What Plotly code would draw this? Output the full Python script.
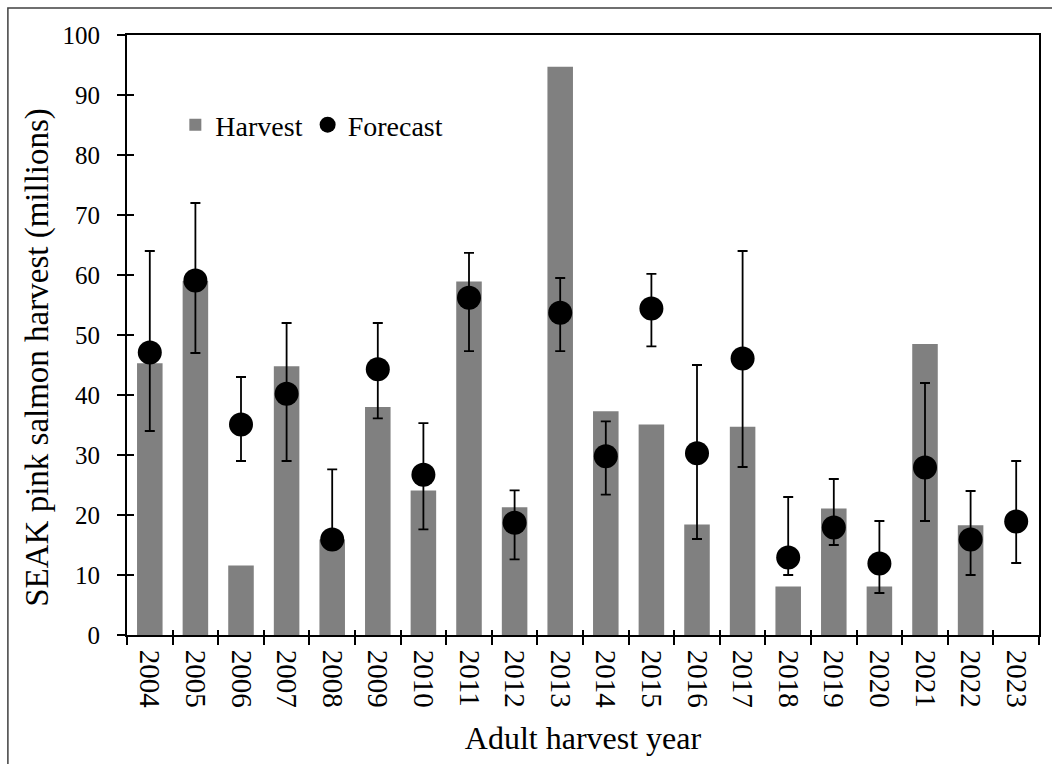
import plotly.graph_objects as go

years = [str(y) for y in range(2004, 2024)]
harvest = [45.3, 59.0, 11.6, 44.8, 15.9, 38.0, 24.1, 58.9, 21.3, 94.7,
           37.3, 35.1, 18.4, 34.7, 8.1, 21.1, 8.1, 48.5, 18.3, None]
forecast = [47.1, 59.1, 35.1, 40.2, 15.9, 44.3, 26.7, 56.2, 18.7, 53.7,
            29.8, 54.4, 30.3, 46.1, 12.9, 17.9, 11.9, 27.9, 15.9, 18.9]
upper = [64.0, 72.0, 43.0, 52.0, 27.6, 52.0, 35.3, 63.7, 24.1, 59.5,
         35.6, 60.2, 45.0, 64.0, 23.0, 26.0, 19.0, 42.0, 24.0, 29.0]
lower = [34.0, 47.0, 29.0, 29.0, 14.5, 36.1, 17.6, 47.3, 12.6, 47.3,
         23.4, 48.1, 16.0, 28.0, 10.0, 15.0, 7.0, 19.0, 10.0, 12.0]

err_plus = [u - f for u, f in zip(upper, forecast)]
err_minus = [f - l for f, l in zip(forecast, lower)]

FONT = "Liberation Serif"
W, H = 1052, 764
L, R, T, B = 126.5, 10.5, 35, 129
pw, ph = W - L - R, H - T - B

fig = go.Figure()
fig.add_trace(go.Bar(
    x=years, y=harvest, name="Harvest",
    marker=dict(color="#808080", line=dict(width=0)),
))
fig.add_trace(go.Scatter(
    x=years, y=forecast, name="Forecast", mode="markers",
    marker=dict(color="black", size=24),
    error_y=dict(type="data", array=err_plus, arrayminus=err_minus,
                 color="black", thickness=1.8, width=5),
))

n = len(years)
bounds = [i - 0.5 for i in range(n + 1)]

fig.update_layout(
    width=W, height=H,
    margin=dict(l=L, r=R, t=T, b=B, pad=0),
    paper_bgcolor="white", plot_bgcolor="white",
    font=dict(family=FONT, color="black", size=26),
    bargap=0.44,
    showlegend=True,
    legend=dict(orientation="h", x=0.053, y=0.85, xanchor="left", yanchor="middle",
                font=dict(family=FONT, size=28, color="black"),
                bgcolor="rgba(0,0,0,0)", itemwidth=30, tracegroupgap=0),
    xaxis=dict(
        type="category", categoryorder="array", categoryarray=years,
        range=[-0.5, n - 0.5],
        tickson="boundaries", ticks="outside", ticklen=8, tickwidth=1.5, tickcolor="black",
        tickangle=90, tickfont=dict(family=FONT, size=29, color="black"),
        ticklabelstandoff=7,
        showline=True, linecolor="black", linewidth=2, mirror=True,
        showgrid=False, zeroline=False,
        title=dict(text="Adult harvest year", font=dict(family=FONT, size=32, color="black"),
                   standoff=19),
    ),
    yaxis=dict(
        range=[0, 100], dtick=10, tick0=0,
        ticks="outside", ticklen=8, tickwidth=1.5, tickcolor="black",
        tickfont=dict(family=FONT, size=25, color="black"),
        ticklabelstandoff=12,
        showline=True, linecolor="black", linewidth=2, mirror=True,
        showgrid=False, zeroline=False,
    ),
    xaxis2=dict(
        overlaying="x", side="bottom", range=[-0.5, n - 0.5],
        tickmode="array", tickvals=bounds, ticks="inside", ticklen=5, tickwidth=1.5,
        tickcolor="black", showticklabels=False, showline=False, showgrid=False,
        zeroline=False, fixedrange=True,
    ),
    yaxis2=dict(
        overlaying="y", side="left", range=[0, 100], dtick=10, tick0=0,
        ticks="inside", ticklen=7, tickwidth=1.5, tickcolor="black",
        showticklabels=False, showline=False, showgrid=False, zeroline=False,
    ),
)

# y-axis title (placed as in the reference, slightly below the plot centre)
fig.add_annotation(text="SEAK pink salmon harvest (millions)", textangle=-90,
                   xref="paper", yref="paper", x=(36 - L) / pw, y=(635 - 357) / ph,
                   xanchor="center", yanchor="middle", showarrow=False,
                   font=dict(family=FONT, size=33, color="black"))

# invisible trace so the overlay axes are drawn
fig.add_trace(go.Scatter(x=[None], y=[None], xaxis="x2", yaxis="y2",
                         showlegend=False, hoverinfo="skip"))

# outer chart-area frame (clipped by the image on the right and bottom)
fig.add_shape(type="rect", xref="paper", yref="paper",
              x0=(7 - L) / pw, x1=(W + 20 - L) / pw,
              y0=-(H + 20 - T - ph) / ph, y1=(H - B - 8) / ph,
              line=dict(color="#404040", width=1.5), fillcolor="rgba(0,0,0,0)", layer="below")

fig.write_html("out.html", config={"displayModeBar": False},
               post_script="document.body.style.margin='0';document.body.style.overflow='hidden';")
